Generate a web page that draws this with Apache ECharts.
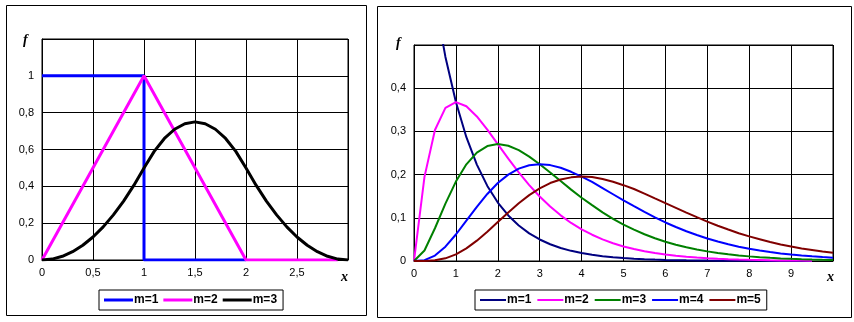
<!DOCTYPE html>
<html><head><meta charset="utf-8">
<script src="https://cdn.jsdelivr.net/npm/echarts@6/dist/echarts.min.js"></script>
<style>html,body{margin:0;padding:0;background:#fff}#c{width:854px;height:322px}</style>
</head><body><div id="c"></div>
<script>
// ---- Left panel data (sum of m uniforms) ----
const leftM1X = [0, 1, 1, 2];
const leftM1Y = [1, 1, 0, 0];
const leftM2X = [0, 1, 2, 2.9];
const leftM2Y = [0, 1, 0, 0];
const leftM3X = [0,0.1,0.2,0.3,0.4,0.5,0.6,0.7,0.8,0.9,1,1.1,1.2,1.3,1.4,1.5,1.6,1.7,1.8,1.9,2,2.1,2.2,2.3,2.4,2.5,2.6,2.7,2.8,2.9,3];
const leftM3Y = [0,0.005,0.02,0.045,0.08,0.125,0.18,0.245,0.32,0.405,0.5,0.59,0.66,0.71,0.74,0.75,0.74,0.71,0.66,0.59,0.5,0.405,0.32,0.245,0.18,0.125,0.08,0.045,0.02,0.005,0];
const leftXTicks = ['0','0,5','1','1,5','2','2,5'];
const leftYTicks = ['0','0,2','0,4','0,6','0,8','1'];

// ---- Right panel data (Erlang m) ----
const rightX = [0,0.25,0.5,0.75,1,1.25,1.5,1.75,2,2.25,2.5,2.75,3,3.25,3.5,3.75,4,4.25,4.5,4.75,5,5.25,5.5,5.75,6,6.25,6.5,6.75,7,7.25,7.5,7.75,8,8.25,8.5,8.75,9,9.25,9.5,9.75,10];
const rightM1 = [1,0.7788,0.6065,0.4724,0.3679,0.2865,0.2231,0.1738,0.1353,0.1054,0.0821,0.0639,0.0498,0.0388,0.0302,0.0235,0.0183,0.0143,0.0111,0.0087,0.0067,0.0053,0.0041,0.0032,0.0025,0.0019,0.0015,0.0012,0.0009,0.0007,0.0006,0.0004,0.0003,0.0003,0.0002,0.0002,0.0001,0.0001,0.0001];
const rightM2 = [0,0.1947,0.3033,0.3543,0.3679,0.3581,0.3347,0.3041,0.2707,0.2371,0.2052,0.1758,0.1494,0.1261,0.1057,0.0881,0.0733,0.0608,0.0500,0.0411,0.0337,0.0276,0.0225,0.0183,0.0149,0.0121,0.0098,0.0079,0.0064,0.0051,0.0041,0.0033,0.0027,0.0022,0.0017,0.0014,0.0011,0.0009,0.0007];
const rightM3 = [0,0.0243,0.0758,0.1329,0.1839,0.2238,0.2510,0.2661,0.2707,0.2667,0.2565,0.2417,0.2240,0.2049,0.1850,0.1652,0.1465,0.1292,0.1125,0.0976,0.0842,0.0725,0.0619,0.0526,0.0446,0.0378,0.0318,0.0267,0.0223,0.0186,0.0155,0.0128,0.0107,0.0089,0.0073,0.0060,0.0050,0.0041,0.0034,0.0028,0.0023];
const rightM4 = [0,0.0020,0.0126,0.0332,0.0613,0.0933,0.1255,0.1552,0.1804,0.2000,0.2138,0.2216,0.2240,0.2220,0.2158,0.2065,0.1954,0.1830,0.1687,0.1545,0.1404,0.1269,0.1135,0.1008,0.0892,0.0788,0.0689,0.0601,0.0520,0.0450,0.0388,0.0331,0.0285,0.0245,0.0207,0.0175,0.0150,0.0126,0.0108,0.0091,0.0077];
const rightM5 = [0,0.0001,0.0016,0.0062,0.0153,0.0292,0.0471,0.0679,0.0902,0.1125,0.1336,0.1524,0.1680,0.1804,0.1888,0.1936,0.1954,0.1944,0.1898,0.1835,0.1755,0.1666,0.1561,0.1449,0.1338,0.1231,0.1120,0.1014,0.0910,0.0816,0.0728,0.0641,0.0570,0.0505,0.0440,0.0383,0.0338,0.0291,0.0257,0.0222,0.0193];
const rightXTicks = ['0','1','2','3','4','5','6','7','8','9'];
const rightYTicks = ['0','0,1','0,2','0,3','0,4'];

const leftNames = ['m=1','m=2','m=3'];
const rightNames = ['m=1','m=2','m=3','m=4','m=5'];
const leftColors = ['#0000ff','#ff00ff','#000000'];
const rightColors = ['#000080','#ff00ff','#008000','#0000ff','#800000'];

function zip(xs, ys){ return ys.map((y,i)=>[xs[i], y]); }

const chart = echarts.init(document.getElementById('c'), null, {renderer:'canvas'});
const labelFont = {color:'#000', fontFamily:'Liberation Sans, Arial, sans-serif', fontSize:11};
function axisCommon(){ return {
  axisLine:{show:true, onZero:false, lineStyle:{color:'#000', width:1}},
  axisTick:{show:false},
  splitLine:{show:true, lineStyle:{color:'#000', width:1}}
};}

const leftData = [zip(leftM1X,leftM1Y), zip(leftM2X,leftM2Y), zip(leftM3X,leftM3Y)];
const rightData = [zip(rightX,rightM1), zip(rightX,rightM2), zip(rightX,rightM3), zip(rightX,rightM4), zip(rightX,rightM5)];

const series = [];
leftNames.forEach((n,i)=>series.push({
  name:'A:'+n, type:'line', xAxisIndex:0, yAxisIndex:0, data:leftData[i],
  showSymbol:false, symbol:'none', color:leftColors[i], lineStyle:{width:3, color:leftColors[i]}, clip:true
}));
rightNames.forEach((n,i)=>series.push({
  name:'B:'+n, type:'line', xAxisIndex:1, yAxisIndex:1, data:rightData[i],
  showSymbol:false, symbol:'none', color:rightColors[i], lineStyle:{width:2, color:rightColors[i]}, clip:true
}));

const legendCommon = {
  orient:'horizontal', icon:'rect',
  borderColor:'#000', borderWidth:1, backgroundColor:'#fff',
  textStyle:{color:'#000', fontFamily:'Liberation Sans, Arial, sans-serif', fontSize:12, fontWeight:'bold', padding:[0,0,0,-4]},
  formatter: n => n.slice(2), selectedMode:false
};

const italicStyle = {fill:'#000', font:'italic bold 14px "Liberation Serif", "Times New Roman", serif'};

chart.setOption({
  animation:false,
  backgroundColor:'#fff',
  grid:[
    {left:42, top:39, width:306, height:221, show:true, backgroundColor:'#fff', borderColor:'#000', borderWidth:1},
    {left:414, top:45, width:419, height:216, show:true, backgroundColor:'#fff', borderColor:'#000', borderWidth:1}
  ],
  xAxis:[
    Object.assign(axisCommon(), {gridIndex:0, type:'value', min:0, max:3, interval:0.5,
      axisLabel:Object.assign({}, labelFont, {margin:7, formatter:(v)=>{const i=Math.round(v/0.5); return i<leftXTicks.length?leftXTicks[i]:'';}})}),
    Object.assign(axisCommon(), {gridIndex:1, type:'value', min:0, max:10, interval:1,
      axisLabel:Object.assign({}, labelFont, {margin:7, formatter:(v)=>{const i=Math.round(v); return i<rightXTicks.length?rightXTicks[i]:'';}})})
  ],
  yAxis:[
    Object.assign(axisCommon(), {gridIndex:0, type:'value', min:0, max:1.2, interval:0.2,
      axisLabel:Object.assign({}, labelFont, {margin:8, formatter:(v)=>{const i=Math.round(v/0.2); return i<leftYTicks.length?leftYTicks[i]:'';}})}),
    Object.assign(axisCommon(), {gridIndex:1, type:'value', min:0, max:0.5, interval:0.1,
      axisLabel:Object.assign({}, labelFont, {margin:8, formatter:(v)=>{const i=Math.round(v/0.1); return i<rightYTicks.length?rightYTicks[i]:'';}})})
  ],
  legend:[
    Object.assign({}, legendCommon, {data:leftNames.map(n=>'A:'+n), left:99, top:290, padding:[4,6,4,5], itemWidth:29, itemHeight:3, itemGap:5}),
    Object.assign({}, legendCommon, {data:rightNames.map(n=>'B:'+n), left:475, top:290, padding:[4,6,4,5], itemWidth:26, itemHeight:2, itemGap:6})
  ],
  graphic:[
    {type:'rect', shape:{x:6.5, y:5.5, width:360, height:310}, style:{fill:null, stroke:'#000', lineWidth:1}, silent:true, z:-1},
    {type:'rect', shape:{x:377.5, y:6.5, width:474, height:311}, style:{fill:null, stroke:'#000', lineWidth:1}, silent:true, z:-1},
    {type:'text', left:23, top:33, style:Object.assign({text:'f'}, italicStyle)},
    {type:'text', left:341, top:270, style:Object.assign({text:'x'}, italicStyle)},
    {type:'text', left:396, top:36, style:Object.assign({text:'f'}, italicStyle)},
    {type:'text', left:827, top:270, style:Object.assign({text:'x'}, italicStyle)}
  ],
  series: series
});
</script>
</body></html>
